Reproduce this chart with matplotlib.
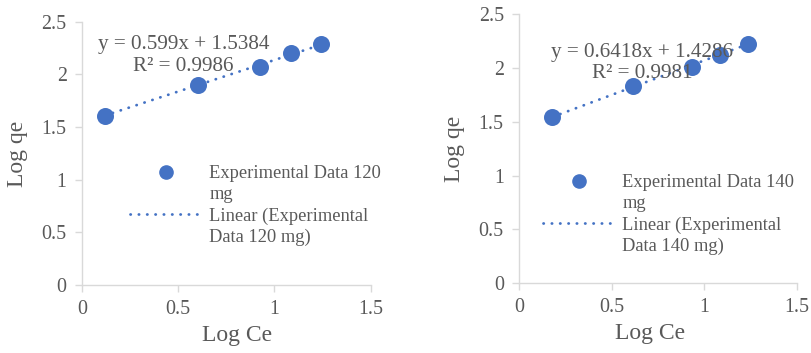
import numpy as np
from matplotlib import pyplot as plt
from matplotlib.lines import Line2D

plt.rcParams['font.family'] = ['Liberation Serif', 'DejaVu Serif']

# data
log_ce_120 = [0.119, 0.604, 0.924, 1.088, 1.240]
log_qe_120 = [1.610, 1.904, 2.075, 2.202, 2.294]
slope_120, icept_120, r2_120 = 0.599, 1.5384, 0.9986

log_ce_140 = [0.180, 0.613, 0.932, 1.085, 1.237]
log_qe_140 = [1.540, 1.831, 2.005, 2.119, 2.218]
slope_140, icept_140, r2_140 = 0.6418, 1.4286, 0.9981

x_ticks = [0, 0.5, 1, 1.5]
y_ticks = [0, 0.5, 1, 1.5, 2, 2.5]

blue = '#4472C4'
grey = '#595959'
axis_grey = '#D9D9D9'
dots = (0, (0.1, 2.9))

fig = plt.figure(figsize=(8.11, 3.53), dpi=100)


def panel(rect, xs, ys, slope, icept, r2, eq_xy, eq_txt, label, leg_anchor, ylabelpad, xlab_x):
    ax = fig.add_axes(rect)
    ax.scatter(xs, ys, s=150, color=blue, zorder=3, linewidths=0)
    xl = np.array([xs[0], xs[-1]])
    ax.plot(xl, slope * xl + icept, color=blue, lw=2.0, linestyle=dots,
            dash_capstyle='round', zorder=2)
    ax.set_xlim(0, 1.5)
    ax.set_ylim(0, 2.5)
    ax.set_xticks(x_ticks)
    ax.set_xticklabels([f'{t:g}' for t in x_ticks])
    ax.set_yticks(y_ticks)
    ax.set_yticklabels([f'{t:g}' for t in y_ticks])
    for s in ['top', 'right']:
        ax.spines[s].set_visible(False)
    for s in ['left', 'bottom']:
        ax.spines[s].set_color(axis_grey)
        ax.spines[s].set_linewidth(1.0)
    ax.tick_params(colors=axis_grey, labelcolor=grey, labelsize=14.4, length=5, width=1.0, pad=6)
    ax.set_xlabel('Log Ce', fontsize=17, color=grey, labelpad=4)
    ax.xaxis.label.set_x(xlab_x)
    ax.set_ylabel('Log qe', fontsize=17, color=grey, labelpad=ylabelpad)

    ax.text(eq_xy[0], eq_xy[1], eq_txt, ha='center', va='center', fontsize=15.2,
            color=grey, linespacing=1.15, zorder=4)

    blank = Line2D([], [], linestyle='none', marker='none')
    handles = [Line2D([], [], linestyle='none', marker='o', markersize=9.5, color=blue),
               blank,
               Line2D([], [], color=blue, lw=2.0, linestyle=dots, dash_capstyle='round'),
               blank]
    labels = ['Experimental Data ' + label, 'mg',
              'Linear (Experimental', 'Data ' + label + ' mg)']
    leg = ax.legend(handles, labels, loc='upper left', bbox_to_anchor=leg_anchor,
                    frameon=False, fontsize=13.3, handlelength=3.9, handletextpad=0.4,
                    borderpad=0, borderaxespad=0, labelspacing=0.22)
    for t in leg.get_texts():
        t.set_color(grey)
    return ax


panel([0.101, 0.193, 0.356, 0.745], log_ce_120, log_qe_120, slope_120, icept_120, r2_120,
      (0.529, 2.18), 'y = 0.599x + 1.5384\nR² = 0.9986', '120', (0.166, 0.455), 10, 0.537)
panel([0.640, 0.198, 0.343, 0.762], log_ce_140, log_qe_140, slope_140, icept_140, r2_140,
      (0.664, 2.045), 'y = 0.6418x + 1.4286\nR² = 0.9981', '140', (0.085, 0.405), 10, 0.471)

fig.savefig('out.png', dpi=100)
